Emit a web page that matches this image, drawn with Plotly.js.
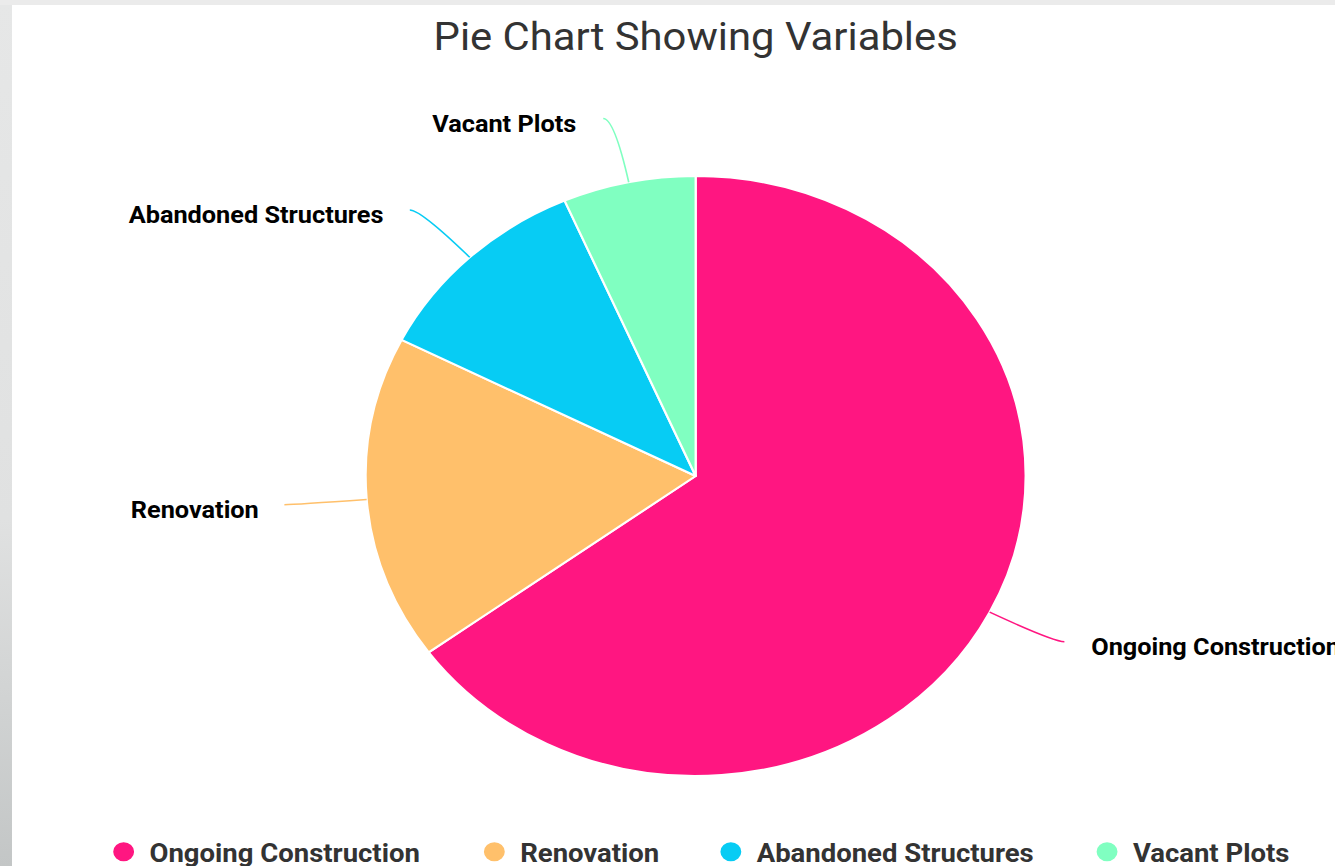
<!DOCTYPE html>
<html>
<head>
<meta charset="utf-8">
<script src="https://cdn.plot.ly/plotly-3.0.1.min.js"></script>
<style>
  html, body { margin: 0; padding: 0; width: 1335px; height: 866px; overflow: hidden;
    background: linear-gradient(to bottom, #e6e7e7 0%, #e0e1e1 60%, #c3c6c6 100%); }
  #top { position: absolute; left: 0; top: 0; width: 1335px; height: 5px; background: #ebebeb; }
  #card { position: absolute; left: 12px; top: 5px; width: 1243px; height: 880px; background: #fff;
    transform: scale(1.1, 1); transform-origin: 0 0; }
</style>
</head>
<body>
<div id="top"></div>
<div id="card"></div>
<script>
const categories = ["Ongoing Construction", "Renovation", "Abandoned Structures", "Vacant Plots"];
const values = [65, 17.5, 11, 6.5];
const colors = ["#ff1681", "#ffc06b", "#07ccf4", "#80ffc1"];
const chartTitle = "Pie Chart Showing Variables";

const W = 1243, H = 880;
const CX = W / 2, CY = 471, R = 300;   // pie geometry (domain below)

const pie = {
  type: "pie",
  labels: categories,
  values: values,
  sort: false,
  direction: "clockwise",
  rotation: 0,
  marker: { colors: colors, line: { color: "#ffffff", width: 2 } },
  textinfo: "none",
  domain: { x: [0, 1], y: [(H - CY - R) / H, (H - CY + R) / H] },
  showlegend: false,
  hoverinfo: "skip"
};

// legend entries (one legend each so spacing can follow the reference)
const legendCenters = [98, 435, 650, 992];
const legendTraces = categories.map((c, i) => ({
  type: "scatter", mode: "markers", x: [null], y: [null], name: c,
  marker: { color: colors[i], size: 16, symbol: "circle", line: { color: colors[i], width: 3 } },
  showlegend: true, hoverinfo: "skip",
  legend: i === 0 ? "legend" : "legend" + (i + 1)
}));

// outside labels with leader lines, computed from the values
const total = values.reduce((a, b) => a + b, 0);
const shapes = [], annotations = [];
let cum = 0;
values.forEach((v, i) => {
  const mid = (cum + v / 2) / total * 2 * Math.PI;
  cum += v;
  const ux = Math.sin(mid), uy = -Math.cos(mid);
  const side = ux >= 0 ? 1 : -1;
  const ex = CX + R * ux, ey = CY + R * uy;
  const kx = ex + 65 * ux, ky = ey + 65 * uy;
  const lx = kx + 10 * side, ly = ky;
  const px = x => x / W, py = y => 1 - y / H;
  shapes.push({
    type: "path", xref: "paper", yref: "paper",
    path: `M ${px(ex)} ${py(ey)} Q ${px(kx)} ${py(ky)} ${px(lx)} ${py(ly)}`,
    line: { color: colors[i], width: 1.5 }
  });
  annotations.push({
    xref: "paper", yref: "paper", x: px(lx + 22 * side), y: py(ly + 6),
    xanchor: side > 0 ? "left" : "right", yanchor: "middle",
    text: categories[i], showarrow: false,
    font: { family: "Roboto", size: 23, color: "#000000", weight: "bold" }
  });
});

const legendFont = { family: "Roboto", size: 25, color: "#333333", weight: "bold" };
const layout = {
  width: W, height: H,
  margin: { l: 0, r: 0, t: 0, b: 0 },
  paper_bgcolor: "#ffffff",
  plot_bgcolor: "rgba(0,0,0,0)",
  title: { text: chartTitle, x: 0.5, xanchor: "center", y: (H - 32) / H, yanchor: "middle",
    font: { family: "Roboto", size: 38, color: "#333333" } },
  xaxis: { visible: false }, yaxis: { visible: false },
  showlegend: true,
  shapes: shapes,
  annotations: annotations
};
legendCenters.forEach((c, i) => {
  layout[i === 0 ? "legend" : "legend" + (i + 1)] = {
    orientation: "h", x: (c - 20) / W, xanchor: "left", y: (H - 847) / H, yanchor: "middle",
    font: legendFont, itemwidth: 37, bgcolor: "rgba(0,0,0,0)"
  };
});

Plotly.newPlot("card", [pie].concat(legendTraces), layout, { displayModeBar: false, staticPlot: true });
</script>
</body>
</html>
